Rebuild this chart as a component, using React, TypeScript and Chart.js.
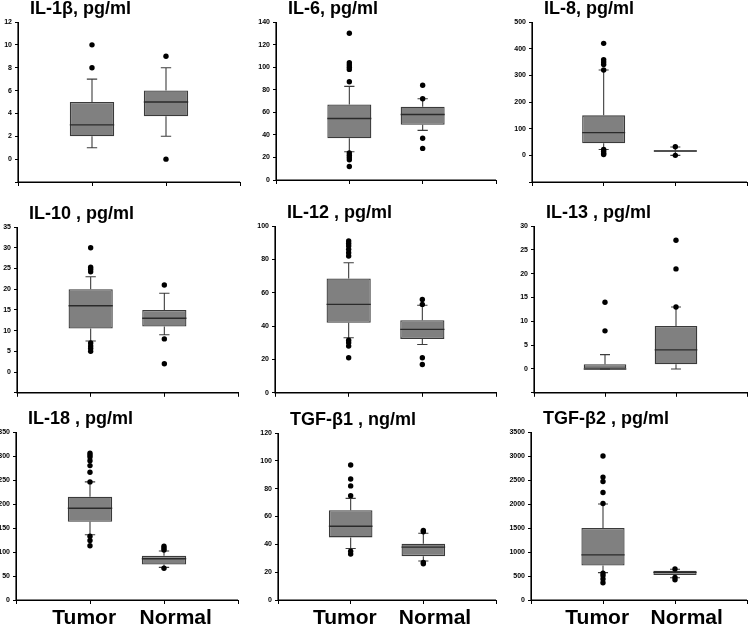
import React, { useEffect, useRef } from 'react';
import { Chart, registerables } from 'chart.js';

Chart.register(...registerables);

const FONT = '"Liberation Sans", Arial, sans-serif';

// Category labels (x positions 1 and 2); padded so they sit apart like the original
const categories = ['Tumor', 'Normal'];
const categoryLabels = ['Tumor  ', '    Normal'];

// Box stats: [lower whisker, Q1, median, Q3, upper whisker]
const il1bTumor = [1, 2, 3, 5, 7];
const il1bNormal = [2, 3.75, 5, 6, 8];
const il1bTumorOut = [10, 8];
const il1bNormalOut = [9, 0];
const il1bAxis = [-2, 12, 2];

const il6Tumor = [25, 37, 54.5, 67, 83];
const il6Normal = [44, 49, 58, 65, 72];
const il6TumorOut = [130, 104, 102, 100, 98, 87, 24, 22, 20, 18, 12];
const il6NormalOut = [84, 72, 37, 28];
const il6Axis = [0, 140, 20];

const il8Tumor = [22, 45, 85, 150, 320];
const il8Normal = [0, 14, 16, 18, 31];
const il8TumorOut = [420, 359, 350, 341, 320, 22, 15, 8, 3];
const il8NormalOut = [32, 0];
const il8Axis = [-100, 500, 100];

const il10Tumor = [7.5, 10.5, 16, 20, 23];
const il10Normal = [9, 11, 13, 15, 19];
const il10TumorOut = [30, 25.3, 24.8, 24.2, 7, 6.3, 5.7, 5];
const il10NormalOut = [21, 8, 2];
const il10Axis = [-5, 35, 5];

const il12Tumor = [33, 42, 53, 68.5, 78];
const il12Normal = [29, 32.3, 38, 43.5, 52.5];
const il12TumorOut = [91, 89.5, 88, 86, 84, 82, 31.5, 30, 28, 21];
const il12NormalOut = [56, 53, 21, 17];
const il12Axis = [0, 100, 20];

const il13Tumor = [0, 0, 0, 1, 3];
const il13Normal = [0, 1, 4, 9, 13];
const il13TumorOut = [14, 8];
const il13NormalOut = [27, 21, 13];
const il13Axis = [-5, 30, 5];

const il18Tumor = [136, 163, 191, 215, 246];
const il18Normal = [68, 74, 86, 92, 102];
const il18TumorOut = [306, 302, 298, 290, 280, 266, 246, 133, 124, 113];
const il18NormalOut = [112, 108, 104, 66];
const il18Axis = [0, 350, 50];

const tgfb1Tumor = [37, 45, 53, 64.5, 73];
const tgfb1Normal = [28, 31.5, 38, 40.5, 48];
const tgfb1TumorOut = [97, 87, 82, 75, 35, 33];
const tgfb1NormalOut = [50, 49, 27, 26];
const tgfb1Axis = [0, 120, 20];

const tgfb2Tumor = [570, 720, 940, 1500, 2000];
const tgfb2Normal = [465, 520, 575, 610, 640];
const tgfb2TumorOut = [3000, 2560, 2470, 2240, 2010, 560, 510, 440, 360];
const tgfb2NormalOut = [645, 470, 420];
const tgfb2Axis = [0, 3500, 500];

const titles = [
  'IL-1β, pg/ml',
  'IL-6, pg/ml',
  'IL-8, pg/ml',
  'IL-10 , pg/ml',
  'IL-12 , pg/ml',
  'IL-13 , pg/ml',
  'IL-18 , pg/ml',
  'TGF-β1 , ng/ml',
  'TGF-β2 , pg/ml',
];

type Panel = {
  title: string;
  tumor: number[];
  normal: number[];
  tumorOut: number[];
  normalOut: number[];
  axis: number[];
  rect: number[]; // layout: canvas left, top, width, height
  area: number[]; // layout: plot left, top, right, bottom
  showLabels: boolean;
};

const panels: Panel[] = [
  { title: titles[0], tumor: il1bTumor, normal: il1bNormal, tumorOut: il1bTumorOut, normalOut: il1bNormalOut, axis: il1bAxis, rect: [0, 0, 250, 200], area: [18, 22, 240, 182], showLabels: false },
  { title: titles[1], tumor: il6Tumor, normal: il6Normal, tumorOut: il6TumorOut, normalOut: il6NormalOut, axis: il6Axis, rect: [250, 0, 250, 200], area: [276, 22, 497, 180], showLabels: false },
  { title: titles[2], tumor: il8Tumor, normal: il8Normal, tumorOut: il8TumorOut, normalOut: il8NormalOut, axis: il8Axis, rect: [500, 0, 251, 200], area: [532, 22, 750, 182], showLabels: false },
  { title: titles[3], tumor: il10Tumor, normal: il10Normal, tumorOut: il10TumorOut, normalOut: il10NormalOut, axis: il10Axis, rect: [0, 200, 250, 200], area: [17, 227, 238, 393], showLabels: false },
  { title: titles[4], tumor: il12Tumor, normal: il12Normal, tumorOut: il12TumorOut, normalOut: il12NormalOut, axis: il12Axis, rect: [250, 200, 250, 200], area: [275, 226, 499, 393], showLabels: false },
  { title: titles[5], tumor: il13Tumor, normal: il13Normal, tumorOut: il13TumorOut, normalOut: il13NormalOut, axis: il13Axis, rect: [500, 200, 251, 200], area: [534, 226, 750, 393], showLabels: false },
  { title: titles[6], tumor: il18Tumor, normal: il18Normal, tumorOut: il18TumorOut, normalOut: il18NormalOut, axis: il18Axis, rect: [0, 400, 250, 225], area: [16, 432, 238, 600], showLabels: true },
  { title: titles[7], tumor: tgfb1Tumor, normal: tgfb1Normal, tumorOut: tgfb1TumorOut, normalOut: tgfb1NormalOut, axis: tgfb1Axis, rect: [250, 400, 250, 225], area: [278, 433, 498, 600], showLabels: true },
  { title: titles[8], tumor: tgfb2Tumor, normal: tgfb2Normal, tumorOut: tgfb2TumorOut, normalOut: tgfb2NormalOut, axis: tgfb2Axis, rect: [500, 400, 251, 225], area: [531, 432, 750, 600], showLabels: true },
];

const BOX_HALF = 0.3; // box half-width in category units
const CAP_HALF = 0.07; // whisker cap half-width in category units
const X_MIN = 0;
const X_MAX = 3;

function whiskerPoints(stats: number[], x: number) {
  const [lo, q1, , q3, hi] = stats;
  const gap = { x, y: null as any };
  return [
    { x, y: q3 }, { x, y: hi }, gap,
    { x: x - CAP_HALF, y: hi }, { x: x + CAP_HALF, y: hi }, gap,
    { x, y: q1 }, { x, y: lo }, gap,
    { x: x - CAP_HALF, y: lo }, { x: x + CAP_HALF, y: lo }, gap,
  ];
}

function medianPoints(stats: number[], x: number) {
  return [
    { x: x - BOX_HALF, y: stats[2] },
    { x: x + BOX_HALF, y: stats[2] },
    { x, y: null as any },
  ];
}

const titlePlugin = {
  id: 'panelTitle',
  afterDraw(chart: any, _args: any, opts: any) {
    const { ctx, chartArea } = chart;
    ctx.save();
    ctx.font = `bold 18px ${FONT}`;
    ctx.fillStyle = '#000';
    ctx.textAlign = 'left';
    ctx.textBaseline = 'alphabetic';
    ctx.fillText(opts.text, chartArea.left + 12, chartArea.top - 8);
    ctx.restore();
  },
};

function BoxPanel({ p }: { p: Panel }) {
  const ref = useRef<HTMLCanvasElement>(null);
  const [px, py, pw, ph] = p.rect;
  const [al, at, ar, ab] = p.area;

  useEffect(() => {
    const [yMin, yMax, yStep] = p.axis;
    const stats = [p.tumor, p.normal];
    const outs = [p.tumorOut, p.normalOut];
    const chart = new Chart(ref.current as HTMLCanvasElement, {
      type: 'bar',
      data: {
        datasets: [
          {
            type: 'scatter',
            data: outs.flatMap((arr, i) => arr.map((v) => ({ x: i + 1, y: v }))),
            pointRadius: 2.7,
            pointBackgroundColor: '#000',
            pointBorderWidth: 0,
            order: 0,
            clip: false,
          } as any,
          {
            // axis lines (L shape) drawn through the scales
            type: 'line',
            data: [
              { x: X_MIN, y: yMax },
              { x: X_MIN, y: yMin },
              { x: X_MAX, y: yMin },
            ],
            borderColor: '#000',
            borderWidth: 1.2,
            pointRadius: 0,
            clip: false,
            order: 0,
          } as any,
          {
            type: 'line',
            data: stats.flatMap((s, i) => medianPoints(s, i + 1)),
            borderColor: '#2a2a2a',
            borderWidth: 1.4,
            pointRadius: 0,
            spanGaps: false,
            order: 1,
          } as any,
          {
            type: 'line',
            data: stats.flatMap((s, i) => whiskerPoints(s, i + 1)),
            borderColor: '#3c3c3c',
            borderWidth: 1.1,
            pointRadius: 0,
            spanGaps: false,
            order: 2,
          } as any,
          {
            type: 'bar',
            data: stats.map((s, i) => ({ x: i + 1, y: [s[1], s[3]] })),
            backgroundColor: '#808080',
            borderColor: '#3a3a3a',
            borderWidth: 1.3,
            borderSkipped: false,
            barPercentage: BOX_HALF * 2,
            categoryPercentage: 1,
            grouped: false,
            order: 3,
          } as any,
        ],
      },
      options: {
        responsive: false,
        animation: false,
        devicePixelRatio: 1,
        layout: { padding: { top: at - py, right: px + pw - ar, left: 0, bottom: 0 } },
        plugins: {
          legend: { display: false },
          tooltip: { enabled: false },
          panelTitle: { text: p.title },
        } as any,
        scales: {
          x: {
            type: 'linear',
            min: X_MIN,
            max: X_MAX,
            offset: false,
            grid: { drawOnChartArea: false, drawTicks: true, tickLength: 4, color: '#000', lineWidth: 1, offset: false },
            border: { display: true, color: '#000', width: 1 },
            ticks: {
              stepSize: 1,
              autoSkip: false,
              maxRotation: 0,
              padding: 2,
              color: '#000',
              font: { family: FONT, size: 21, weight: 'bold' },
              callback: (v: any) => (p.showLabels ? categoryLabels[Number(v) - 1] ?? '' : ''),
            },
            afterFit: (s: any) => {
              s.height = py + ph - ab;
            },
          },
          y: {
            type: 'linear',
            min: yMin,
            max: yMax,
            grid: { drawOnChartArea: false, drawTicks: true, tickLength: 3, color: '#000', lineWidth: 1 },
            border: { display: true, color: '#000', width: 1 },
            ticks: {
              stepSize: yStep,
              padding: 3,
              color: '#000',
              font: { family: FONT, size: 7, weight: 'bold' },
              callback: (v: any) => (Number(v) < 0 ? '' : String(v)),
            },
            afterFit: (s: any) => {
              s.width = al - px;
            },
          },
        },
      } as any,
      plugins: [titlePlugin],
    });
    return () => chart.destroy();
  }, []);

  return (
    <canvas
      ref={ref}
      width={pw}
      height={ph}
      style={{ position: 'absolute', left: px, top: py, width: pw, height: ph }}
    />
  );
}

export default function App() {
  return (
    <div style={{ position: 'absolute', left: 0, top: 0, width: 751, height: 625, background: '#fff', overflow: 'hidden' }}>
      {panels.map((p, i) => (
        <BoxPanel key={i} p={p} />
      ))}
    </div>
  );
}
